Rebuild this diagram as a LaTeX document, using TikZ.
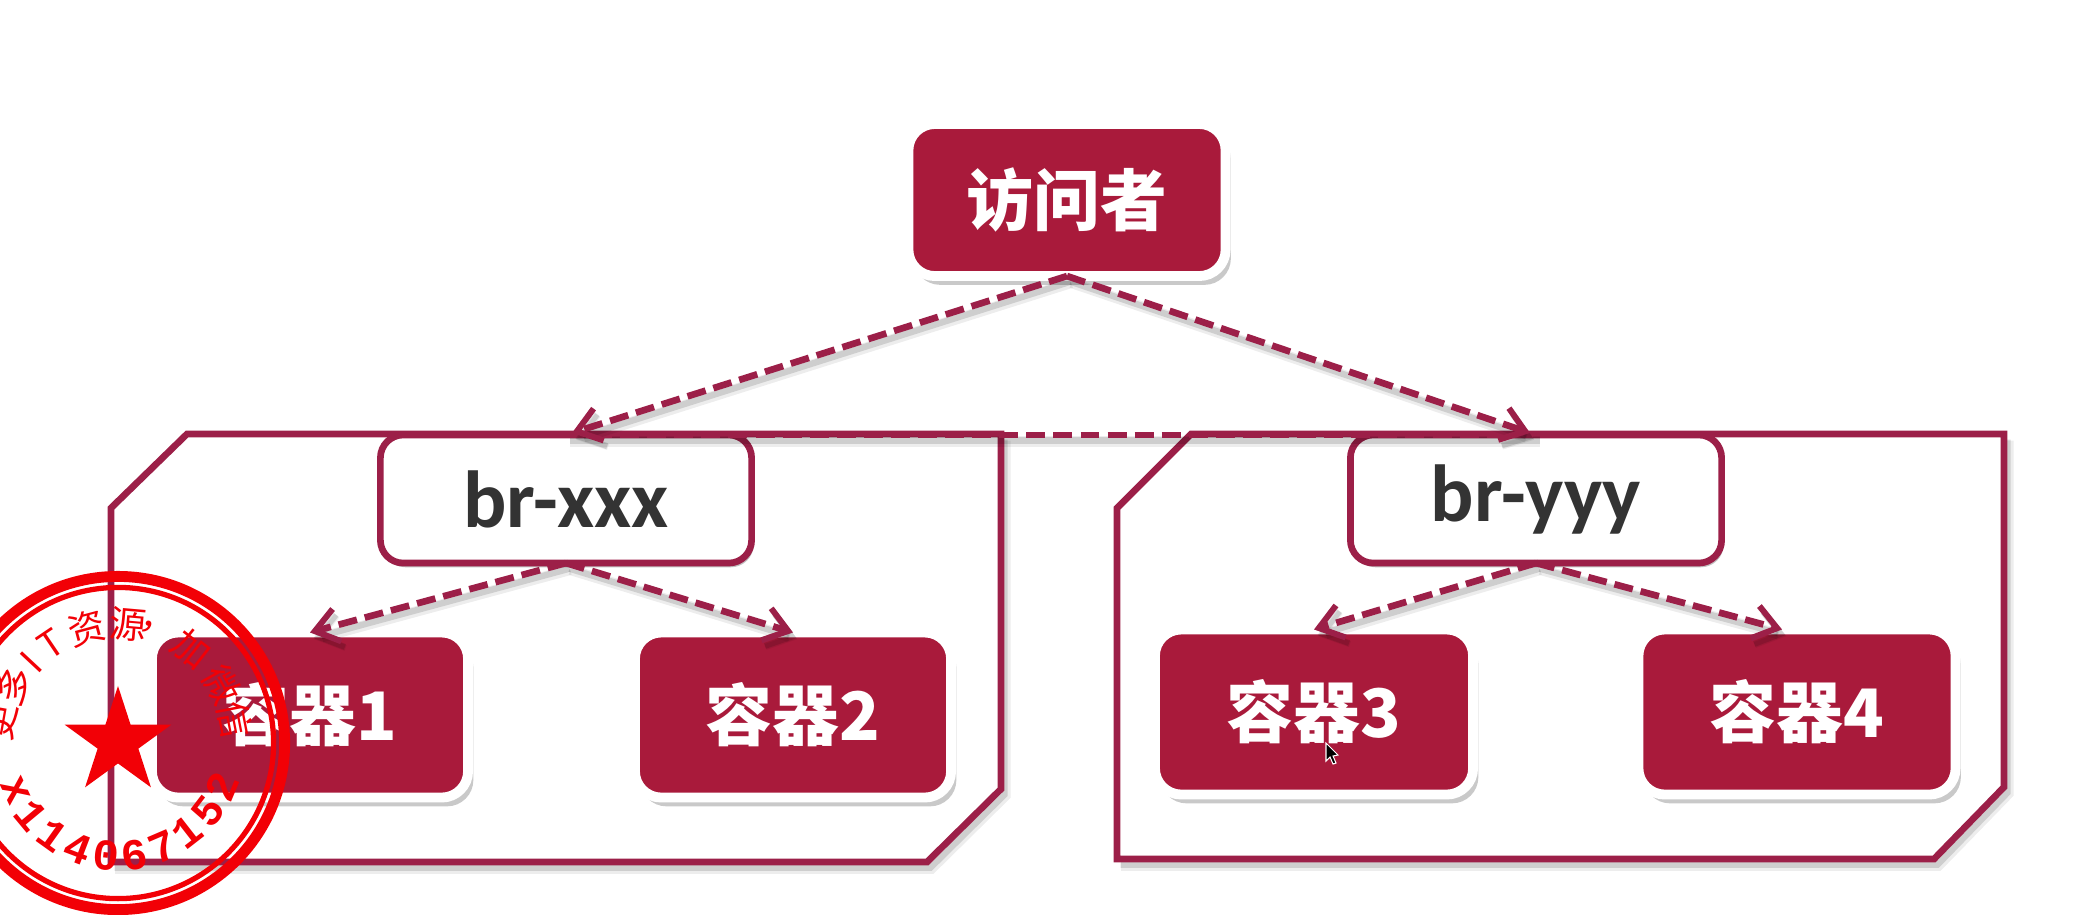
\documentclass[tikz,border=0pt]{standalone}
\usepackage{xcolor}
\usepackage{fontspec}
\setmainfont{Noto Sans CJK SC}
\newfontfamily\stampmono{Liberation Mono}
\newfontfamily\brfont{Carlito}
\usetikzlibrary{calc,arrows.meta,shadows,shapes.geometric}
\definecolor{boxred}{HTML}{A91A3B}
\definecolor{linered}{HTML}{9C1F48}
\definecolor{stampred}{HTML}{F20006}
\tikzset{>={Straight Barb[length=6.5pt,width=9.5pt,line width=1.7pt]}}
\tikzset{
  softshadow/.style={preaction={draw=black,line width=3pt,opacity=.07,transform canvas={shift={(1.2pt,-1.9pt)}}},
    preaction={draw=black,line width=1.8pt,opacity=.13,transform canvas={shift={(1pt,-1.6pt)}}}},
  redbox/.style={rounded corners=7.5pt,fill=boxred,draw=white,line width=2.8pt,outer sep=0pt,text=white,
    font=\fontsize{19pt}{20pt}\selectfont\bfseries,
    drop shadow={shadow xshift=1.5pt,shadow yshift=-2.5pt,opacity=.3,fill=black!70}},
  brbox/.style={rounded corners=6.5pt,fill=white,draw=linered,line width=1.9pt,outer sep=0pt,text=black!80,
    minimum width=3.71cm,minimum height=1.28cm,font=\fontsize{23pt}{24pt}\selectfont\brfont\bfseries,
    drop shadow={shadow xshift=.6pt,shadow yshift=-1.2pt,opacity=.35,fill=black!70}},
  boxline/.style={draw=linered,line width=1.9pt,line join=miter},
  boxshadow/.style={draw=none,softshadow},
  link/.style={draw=linered,line width=1.9pt,dash pattern=on 5.4pt off 2.3pt,softshadow},
  stamptext/.style={text=stampred,inner sep=0pt,font=\fontsize{10.5pt}{11pt}\selectfont},
}

\begin{document}
\begin{tikzpicture}[x=0.01cm,y=-0.01cm]
\useasboundingbox (0,0) rectangle (2098,914);

\node[redbox,minimum width=3.17cm,minimum height=1.52cm] (visitor) at (1067,200) {访问者};
\node[brbox] (brx) at (566,499) {br-xxx};
\node[brbox] (bry) at (1536,499) {br-yyy};
\node[redbox,minimum width=3.16cm,minimum height=1.65cm] (cone) at (310,715) {容器1};
\node[redbox,minimum width=3.16cm,minimum height=1.65cm] (ctwo) at (793,715) {容器2};
\node[redbox,minimum width=3.18cm,minimum height=1.65cm] (cthree) at (1314,712) {容器3};
\node[redbox,minimum width=3.17cm,minimum height=1.65cm] (cfour) at (1797,712) {容器4};

% the two networks
\draw[boxshadow] (1001,434)--(1001,789)--(927,862)--(111,862);
\draw[boxshadow] (2004,434)--(2004,787)--(1934,859)--(1117,859);
\draw[boxline] (187,434)--(1001,434)--(1001,789)--(927,862)--(111,862)--(111,508)--cycle;
\draw[boxline] (1191,434)--(2004,434)--(2004,787)--(1934,859)--(1117,859)--(1117,508)--cycle;
\draw[link] (brx.north)--(bry.north);

\draw[link,->] (visitor.south)--($(brx.north)+(6,-2)$);
\draw[link,->] (visitor.south)--($(bry.north)+(-6,-2)$);
\draw[link,->] (brx.south)--(cone.north);
\draw[link,->] (brx.south)--(ctwo.north);
\draw[link,->] (bry.south)--(cthree.north);
\draw[link,->] (bry.south)--($(cfour.north)+(-15,0)$);

% stamp
\coordinate (stampc) at (118,743);
\draw[stampred,line width=3.1pt] (stampc) circle (1.665cm);
\draw[stampred,line width=1.5pt] (stampc) circle (1.555cm);
\node[star,star points=5,star point ratio=2.618,fill=stampred,minimum size=1.12cm,inner sep=0pt] (stampstar) at (118,742) {};
\foreach \a/\c in {170/更,151/多,137/I,124/T,105/资,85/源,71/，,52/加,29/微,11/信}
  \node[stamptext,rotate=\a-90] at ($(stampc)+(\a:1.19cm)$) {\c};
\foreach \a/\c in {205/x,219.7/1,234.4/1,249.1/4,263.8/0,278.5/6,293.2/7,307.9/1,322.6/5,337.3/2}
  \node[stamptext,rotate=\a+90,font=\fontsize{12.5pt}{13pt}\selectfont\stampmono\bfseries] at ($(stampc)+(\a:1.13cm)$) {\c};

% mouse pointer
\filldraw[fill=black,draw=white,line width=.3pt] (1326,743)--(1326,761)--(1330,757)--(1333,764)--(1336,763)--(1333,756)--(1338,755)--cycle;
\end{tikzpicture}
\end{document}
